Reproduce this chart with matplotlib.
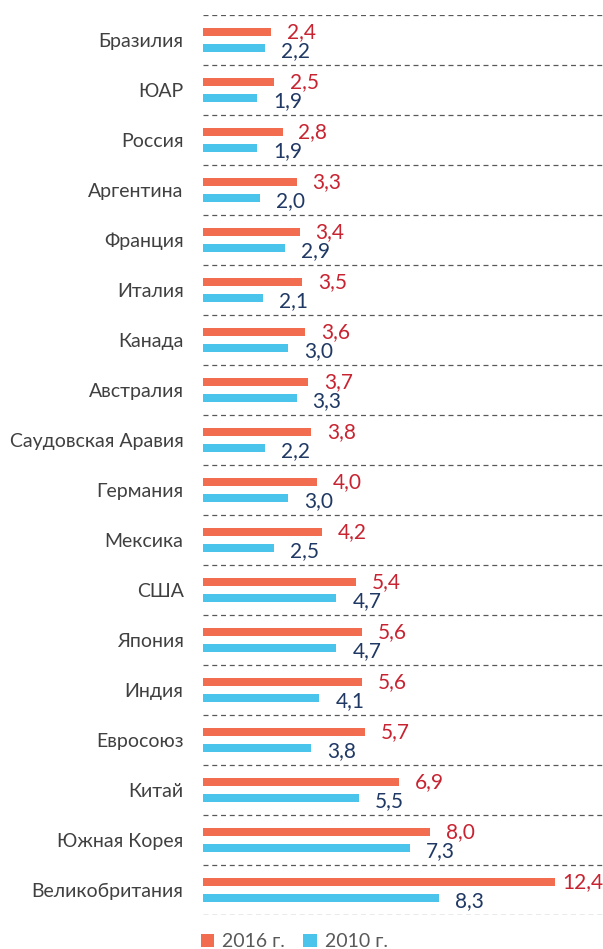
import matplotlib
matplotlib.use("Agg")
import matplotlib.pyplot as plt
import numpy as np

categories = ["Бразилия", "ЮАР", "Россия", "Аргентина", "Франция", "Италия", "Канада",
              "Австралия", "Саудовская Аравия", "Германия", "Мексика", "США", "Япония",
              "Индия", "Евросоюз", "Китай", "Южная Корея", "Великобритания"]
v2016 = [2.4, 2.5, 2.8, 3.3, 3.4, 3.5, 3.6, 3.7, 3.8, 4.0, 4.2, 5.4, 5.6, 5.6, 5.7, 6.9, 8.0, 12.4]
v2010 = [2.2, 1.9, 1.9, 2.0, 2.9, 2.1, 3.0, 3.3, 2.2, 3.0, 2.5, 4.7, 4.7, 4.1, 3.8, 5.5, 7.3, 8.3]
series_names = ["2016 г.", "2010 г."]

c16 = "#F26D50"
c10 = "#4BC4EC"
lab16 = "#C82331"
lab10 = "#1F3864"

plt.rcParams['font.family'] = ['Lato', 'DejaVu Sans']

fig = plt.figure(figsize=(6.03, 9.49), dpi=100)
ax = fig.add_axes([203/603, 1-915/949, 400/603, 900/949])

n = len(categories)
y = np.arange(n)
off = 0.16
h = 0.16
ax.barh(y - off, v2016, height=h, color=c16, label=series_names[0])
ax.barh(y + off, v2010, height=h, color=c10, label=series_names[1])

xmax = 400/28.4
gap = 0.56
lab_w = 1.45  # approx label width in data units, to keep labels inside the plot

def place(val, yy, color):
    s = f"{val:.1f}".replace(".", ",")
    if val + gap + lab_w > xmax:
        ax.text(xmax, yy, s, color=color, fontsize=15, va="center", ha="right")
    else:
        ax.text(val + gap, yy, s, color=color, fontsize=15, va="center", ha="left")

for yi, a, b in zip(y, v2016, v2010):
    place(a, yi - off + 0.0, lab16)
    place(b, yi + off + 0.06, lab10)

for g in np.arange(-0.5, n, 1.0):
    ax.axhline(g, color="#595959", lw=0.9, ls=(0, (4, 3)), xmin=0, xmax=1)

ax.set_xlim(0, xmax)
ax.set_ylim(n - 0.5, -0.5)
ax.set_yticks(y)
ax.set_yticklabels(categories, fontsize=14, color="#404040")
ax.tick_params(axis="y", length=0, pad=14)
ax.set_xticks([])
for s in ax.spines.values():
    s.set_visible(False)

leg = fig.legend(loc="lower left", bbox_to_anchor=(183/603, -0.02), ncol=2, frameon=False,
                 fontsize=14, handlelength=0.7, handleheight=0.7, handletextpad=0.4,
                 columnspacing=0.95)
for t in leg.get_texts():
    t.set_color("#595959")

fig.savefig("out.png", dpi=100)
